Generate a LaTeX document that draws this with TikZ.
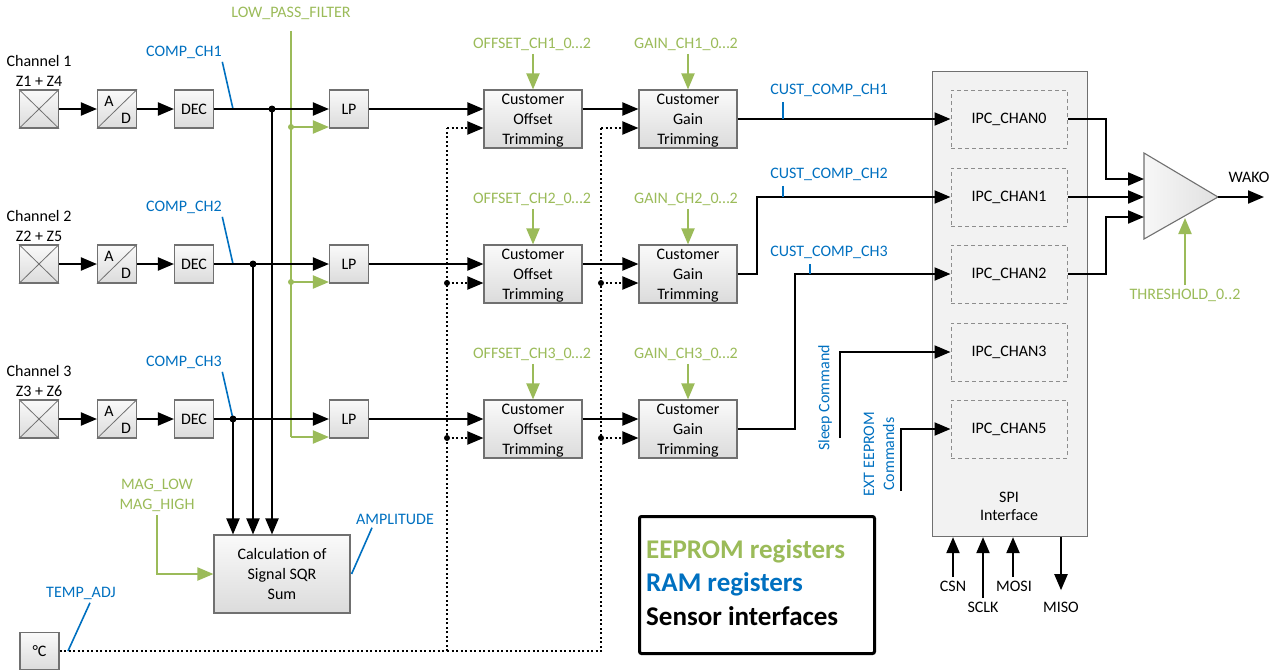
\documentclass[tikz,border=0pt]{standalone}
\usepackage{fontspec}
\setmainfont{Carlito}
\usetikzlibrary{arrows.meta,calc}
\definecolor{eeg}{RGB}{155,187,89}
\definecolor{ramb}{RGB}{0,112,192}
\definecolor{edge}{RGB}{112,112,112}
\definecolor{spifill}{RGB}{242,242,242}

\tikzset{
  box/.style={draw=edge, line width=1.1pt, top color=white!98!black,
    bottom color=white!86!black, inner sep=0pt, align=center},
  sq/.style={box, minimum width=39pt, minimum height=38pt},
  trimbox/.style={box, minimum width=98pt, minimum height=58pt},
  ipcbox/.style={draw=edge!80, line width=1pt, dash pattern=on 4pt off 3pt,
    minimum width=116pt, minimum height=58pt, inner sep=0pt},
  tip/.style={-{Triangle[length=16pt,width=13pt]}},
  sig/.style={line width=2pt, tip},
  dotw/.style={line width=2pt, dash pattern=on 2pt off 2.5pt},
  dotsig/.style={dotw, tip},
  gline/.style={draw=eeg, line width=2pt},
  eep/.style={gline, tip},
  tick/.style={draw=ramb, line width=1.6pt},
  eeplabel/.style={text=eeg},
  ramlabel/.style={text=ramb},
  legendtext/.style={anchor=west, inner sep=0pt, font=\bfseries\fontsize{27}{32}\selectfont},
}

\begin{document}
\begin{tikzpicture}[x=1pt, y=-1pt, font=\fontsize{16}{20}\selectfont]
\useasboundingbox (0,0) rectangle (1281,670);

% ---------- signal-sum block and its inputs ----------
\node[box, minimum width=136pt, minimum height=78pt] (calc) at (282,574)
  {Calculation of\\Signal SQR\\Sum};
\node[eeplabel, align=center] (mag) at (157,495) {MAG\_LOW\\MAG\_HIGH};
\draw[eep] (mag.south) |- (calc.west);
\node[ramlabel] (ampl) at (395,519) {AMPLITUDE};
\coordinate (amplT) at ($(calc.east)+(1,0)$);
\draw[tick] ([xshift=-23pt]ampl.south) -- (amplT);

% ---------- low-pass filter coefficient bus ----------
\node[eeplabel] (lpf) at (291,13) {LOW\_PASS\_FILTER};
\coordinate (g1) at (291,127);
\coordinate (g2) at (291,282);
\coordinate (g3) at (291,437);
\draw[gline] ([yshift=-8pt]lpf.south) -- (g3);

% ---------- temperature sensor ----------
\node[sq, minimum height=37pt] (temp) at (39.5,651) {°C};
\node[ramlabel] (tadj) at (81,593) {TEMP\_ADJ};
\coordinate (tadjT) at (68,651);
\draw[tick] ([xshift=9pt]tadj.south) -- (tadjT);

% ---------- three measurement channels ----------
\foreach \i/\y/\jx/\zz in {1/109/272/Z1 + Z4, 2/264/253/Z2 + Z5, 3/419/233/Z3 + Z6} {
  % sensor element
  \node[sq] (s\i) at (39,\y) {};
  \draw[edge, line width=0.8pt] (s\i.north west) -- (s\i.south east)
                               (s\i.south west) -- (s\i.north east);
  \node (chl\i) at (39,\y-48) {Channel \i};
  \node (z\i) at (39,\y-28) {\zz};
  % converter, decimator, low pass
  \node[sq] (ad\i) at (117,\y) {};
  \draw[edge, line width=0.8pt] (ad\i.south west) -- (ad\i.north east);
  \node at ($(ad\i.center)+(-8,-8)$) {A};
  \node at ($(ad\i.center)+(9,9)$) {D};
  \node[sq] (dec\i) at (194,\y) {DEC};
  \node[sq] (lp\i) at (349,\y) {LP};
  % trimming stages
  \node[trimbox] (off\i) at (533,\y+10) {};
  \node[align=center] at (533,\y+12) {Customer\\Offset\\Trimming};
  \node[trimbox] (gain\i) at (688,\y+10) {};
  \node[align=center] at (688,\y+12) {Customer\\Gain\\Trimming};
  \node[eeplabel] (offl\i) at (532,\y-65) {OFFSET\_CH\i\_0…2};
  \node[eeplabel] (gainl\i) at (686,\y-65) {GAIN\_CH\i\_0…2};
  \draw[eep] ([xshift=1pt]offl\i.south) -- (off\i.north);
  \draw[eep] ([xshift=2pt]gainl\i.south) -- (gain\i.north);
  % RAM register tap
  \node[ramlabel] (cl\i) at (184,\y-57) {COMP\_CH\i};
  \coordinate (ct\i) at (233,\y);
  \draw[tick] ([xshift=-3pt]cl\i.south east) -- (ct\i);
  % signal path
  \draw[sig] (s\i) -- (ad\i);
  \draw[sig] (ad\i) -- (dec\i);
  \draw[eep] (g\i) -- (g\i -| lp\i.west);
  \draw[sig] (dec\i) -- (lp\i);
  \coordinate (j\i) at (\jx,\y);
  \fill (j\i) circle (3.5);
  \draw[sig] (j\i) -- (j\i |- calc.north);
  \draw[sig] (lp\i) -- (lp\i -| off\i.west);
  \draw[sig] (off\i.east |- lp\i) -- (gain\i.west |- lp\i);
  % temperature correction taps
  \coordinate (dA\i) at (447,\y+19);
  \coordinate (dB\i) at (601,\y+19);
  \draw[dotsig] (dA\i) -- (dA\i -| off\i.west);
  \draw[dotsig] (dB\i) -- (dB\i -| gain\i.west);
}
\fill[eeg] (g1) circle (3);
\fill[eeg] (g2) circle (3);
\draw[dotw] (temp.east) -| (dA1);
\draw[dotw] (dA1 |- temp.east) -| (dB1);
\foreach \p in {dA2,dA3,dB2,dB3} \fill (\p) circle (3);

% ---------- SPI interface ----------
\node[draw=edge, line width=1.1pt, fill=spifill, minimum width=155pt,
      minimum height=465pt, anchor=north west, inner sep=0pt] (spi) at (932,71) {};
\foreach \k/\yy in {0/119,1/197,2/274,3/352,5/429}
  \node[ipcbox] (ipc\k) at (1009,\yy) {IPC\_CHAN\k};
\node[align=center] (spil) at (1009,506) {SPI\\[-2pt]Interface};

% customer-trimmed outputs
\node[ramlabel] (cc1) at (829,90) {CUST\_COMP\_CH1};
\node[ramlabel] (cc2) at (829,174) {CUST\_COMP\_CH2};
\node[ramlabel] (cc3) at (829,252) {CUST\_COMP\_CH3};
\coordinate (k2) at (757,197);
\coordinate (k3) at (795,274);
\draw[sig] (gain1.east) -- (gain1.east -| ipc0.west);
\draw[sig] (gain2.east) -- (gain2.east -| k2) |- (ipc1.west);
\draw[sig] (gain3.east) -- (gain3.east -| k3) |- (ipc2.west);
\coordinate (cct1) at (783,119);
\coordinate (cct2) at (783,197);
\coordinate (cct3) at (810,274);
\draw[tick] ([yshift=-2pt]cc1.south -| cct1) -- (cct1);
\draw[tick] ([yshift=-2pt]cc2.south -| cct2) -- (cct2);
\draw[tick] ([yshift=-2pt]cc3.south -| cct3) -- (cct3);

% command inputs
\node[ramlabel, rotate=90] (sleep) at (825,398) {Sleep Command};
\node[ramlabel, rotate=90, align=center] (ext) at (879,454) {EXT EEPROM\\Commands};
\coordinate (slp) at (840,438);
\coordinate (exc) at (901,491);
\draw[sig] (slp) |- (ipc3.west);
\draw[sig] (exc) |- (ipc5.west);

% SPI pins
\node (csn) at (953,586) {CSN};
\node (sclk) at (983,607) {SCLK};
\node (mosi) at (1014,586) {MOSI};
\node (miso) at (1061,607) {MISO};
\draw[sig] (csn.north) -- (csn.north |- spi.south);
\draw[sig] (sclk.north) -- (sclk.north |- spi.south);
\draw[sig] ([xshift=-1pt]mosi.north) -- ([xshift=-1pt]mosi.north |- spi.south);
\draw[sig, shorten >=8pt] (miso.north |- spi.south) -- (miso.north);

% ---------- wake-up comparator ----------
\coordinate (a1) at (1144,153);
\coordinate (a2) at (1144,239);
\coordinate (a3) at (1218,197);
\draw[draw=edge, line width=1.1pt, left color=white!97!black, right color=white!88!black]
  (a1) -- (a3) -- (a2) -- cycle;
\coordinate (in0) at (1144,179);
\coordinate (in1) at (1144,197);
\coordinate (in2) at (1144,217);
\coordinate (b0) at (1106,179);
\coordinate (b2) at (1106,217);
\draw[sig] (ipc0.east) -| (b0) -- (in0);
\draw[sig] (ipc1.east) -- (in1);
\draw[sig] (ipc2.east) -| (b2) -- (in2);
\coordinate (wout) at (1264,197);
\draw[sig] (a3) -- (wout);
\node (wako) at (1249,177) {WAKO};
\node[eeplabel] (thr) at (1185,295) {THRESHOLD\_0..2};
\coordinate (thrT) at (1185,218);
\draw[eep] (thr.north) -- (thrT);

% ---------- legend ----------
\node[draw, line width=3pt, rounded corners=2pt, minimum width=235pt,
      minimum height=137pt, anchor=north west, inner sep=0pt] (legend) at (638,515) {};
\node[legendtext, text=eeg] (lg1) at (646,551) {EEPROM registers};
\node[legendtext, text=ramb] (lg2) at (646,584) {RAM registers};
\node[legendtext] (lg3) at (646,616) {Sensor interfaces};
\end{tikzpicture}
\end{document}
